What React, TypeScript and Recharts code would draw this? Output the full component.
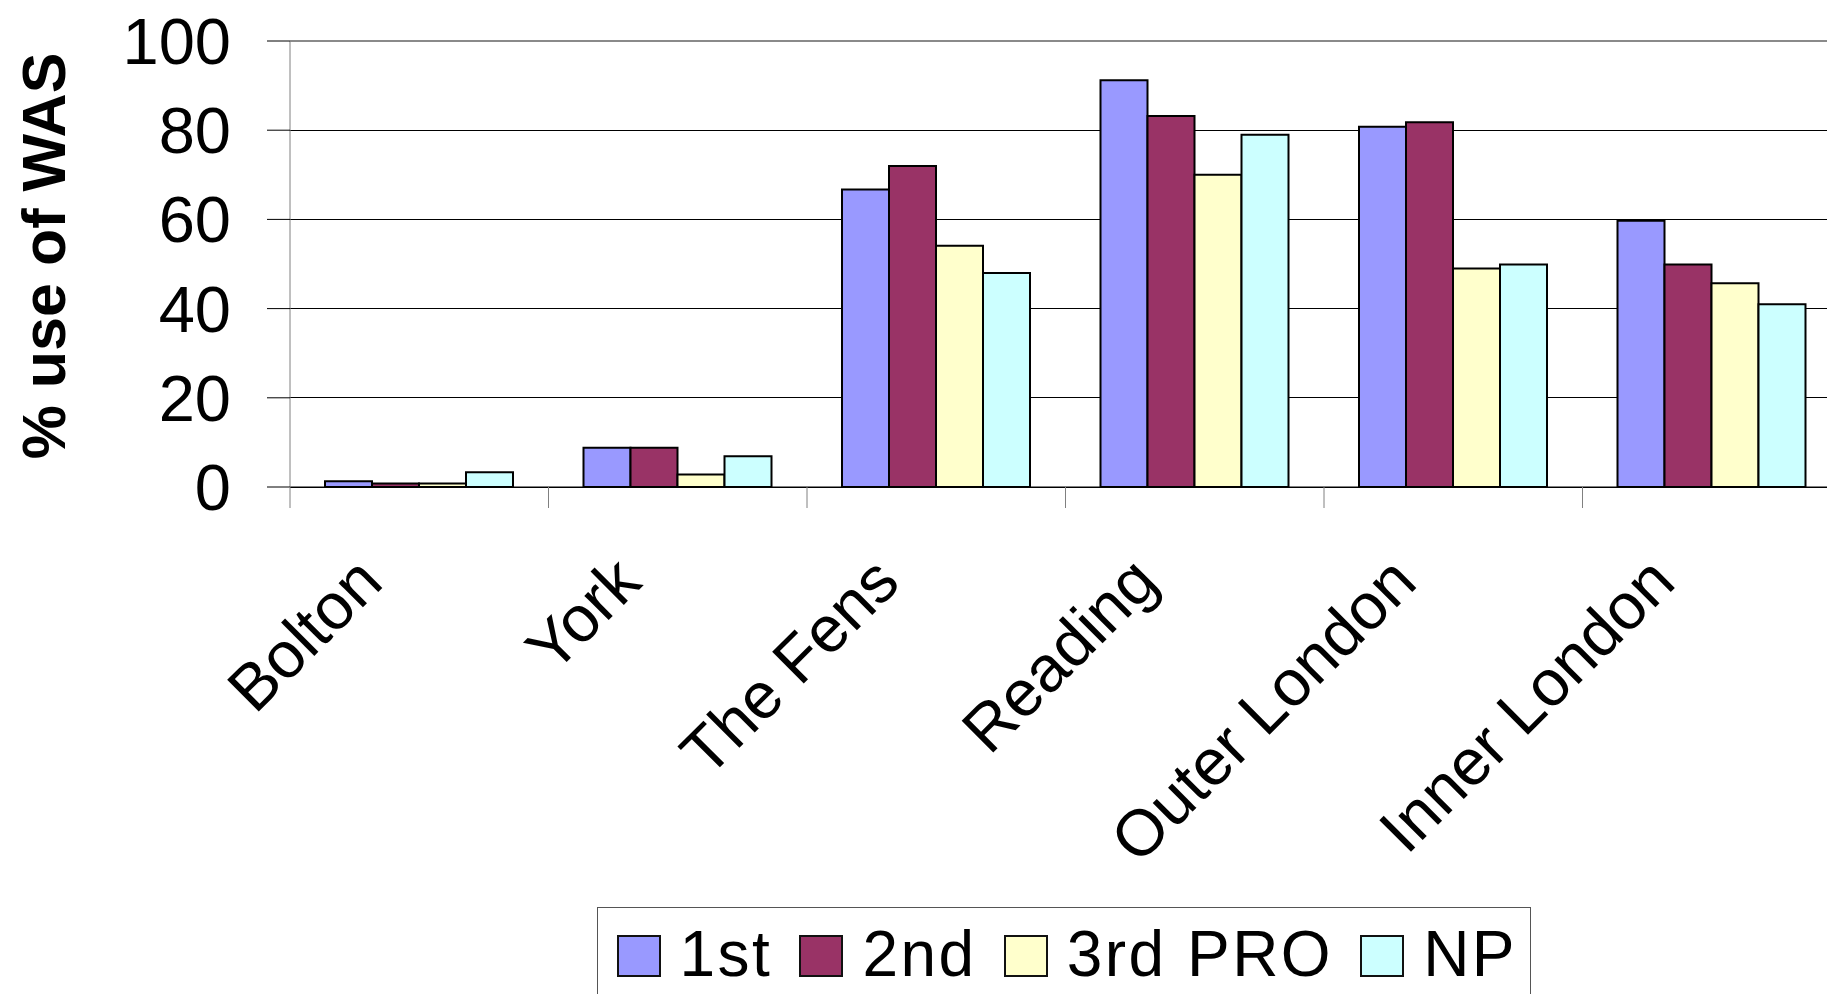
import React from 'react';
import {
  BarChart,
  Bar,
  XAxis,
  YAxis,
  CartesianGrid,
  ReferenceLine,
  Label
} from 'recharts';

const CATEGORIES = ['Bolton', 'York', 'The Fens', 'Reading', 'Outer London', 'Inner London'];
const FIRST = [1.3, 8.8, 66.7, 91.2, 80.8, 59.7];
const SECOND = [0.8, 8.8, 72.0, 83.2, 81.8, 49.9];
const THIRD_PRO = [0.8, 2.8, 54.1, 70.0, 49.0, 45.7];
const NP = [3.3, 6.9, 48.0, 79.0, 49.9, 41.0];
const Y_TICKS = [0, 20, 40, 60, 80, 100];

const SERIES = [
  { key: 'first', label: '1st', color: '#9999FF' },
  { key: 'second', label: '2nd', color: '#993366' },
  { key: 'third', label: '3rd PRO', color: '#FFFFCC' },
  { key: 'np', label: 'NP', color: '#CCFFFF' }
];

const chartData = CATEGORIES.map((name, i) => ({
  name,
  first: FIRST[i],
  second: SECOND[i],
  third: THIRD_PRO[i],
  np: NP[i]
}));

const FONT = '"Liberation Sans", Arial, sans-serif';

// category label rotated 45deg, plus a tick mark on the left edge of each band
const CategoryTick = (props: any) => {
  const { x, y, payload } = props;
  const half = payload?.offset || 129;
  const edge = x - half;
  const lx = x - 34;
  const ly = y + 98;
  return (
    <g>
      <line x1={edge} y1={y} x2={edge} y2={y + 21} stroke="#808080" strokeWidth={1} />
      <text
        x={lx}
        y={ly}
        textAnchor="end"
        transform={`rotate(-45, ${lx}, ${ly})`}
        fontSize={65}
        fontFamily={FONT}
        fill="#000"
      >
        {payload.value}
      </text>
    </g>
  );
};

const AxisTitle = () => (
  <text
    x={65}
    y={256}
    textAnchor="middle"
    transform="rotate(-90, 65, 256)"
    fontSize={61}
    fontWeight="bold"
    fontFamily={FONT}
    fill="#000"
  >
    % use of WAS
  </text>
);

const LegendBox = () => (
  <div
    style={{
      position: 'absolute',
      left: 597,
      top: 907,
      width: 934,
      height: 120,
      boxSizing: 'border-box',
      border: '1.5px solid #555',
      paddingLeft: 18.5,
      paddingTop: 14,
      display: 'flex',
      alignItems: 'flex-start',
      fontFamily: FONT,
      background: '#fff'
    }}
  >
    {SERIES.map((s, i) => (
      <div key={s.key} style={{ display: 'flex', alignItems: 'flex-start', marginLeft: i === 0 ? 0 : 27 }}>
        <div
          style={{
            width: 44,
            height: 42,
            boxSizing: 'border-box',
            border: '2px solid #111',
            background: s.color,
            marginTop: 13
          }}
        />
        <span style={{ fontSize: 64, lineHeight: '64px', letterSpacing: 2.5, marginLeft: 19, color: '#000' }}>
          {s.label}
        </span>
      </div>
    ))}
  </div>
);

export default function App() {
  return (
    <div
      style={{
        position: 'fixed',
        left: 0,
        top: 0,
        width: 1827,
        height: 994,
        overflow: 'hidden',
        background: '#fff'
      }}
    >
      <BarChart
        width={1850}
        height={994}
        data={chartData}
        margin={{ top: 41, right: 9, bottom: 0, left: 0 }}
        barSize={47}
        barGap={0}
      >
        <CartesianGrid vertical={false} stroke="#000" strokeWidth={1} shapeRendering="crispEdges" />
        <XAxis
          dataKey="name"
          height={507}
          tickSize={0}
          tickMargin={0}
          tickLine={false}
          axisLine={{ stroke: '#000', strokeWidth: 1 }}
          interval={0}
          tick={<CategoryTick />}
        />
        <YAxis
          type="number"
          width={290}
          domain={[0, 100]}
          ticks={Y_TICKS}
          interval={0}
          tickSize={23}
          tickMargin={36}
          tickLine={{ stroke: '#000' }}
          axisLine={{ stroke: '#808080', strokeWidth: 1 }}
          tick={{ fontSize: 65, fontFamily: FONT, fill: '#000' }}
        >
          <Label content={<AxisTitle />} />
        </YAxis>
        <ReferenceLine y={100} stroke="#8a8a8a" strokeWidth={2} />
        {SERIES.map((s) => (
          <Bar
            key={s.key}
            dataKey={s.key}
            name={s.label}
            fill={s.color}
            stroke="#000"
            strokeWidth={2}
            isAnimationActive={false}
          />
        ))}
      </BarChart>
      <LegendBox />
    </div>
  );
}
